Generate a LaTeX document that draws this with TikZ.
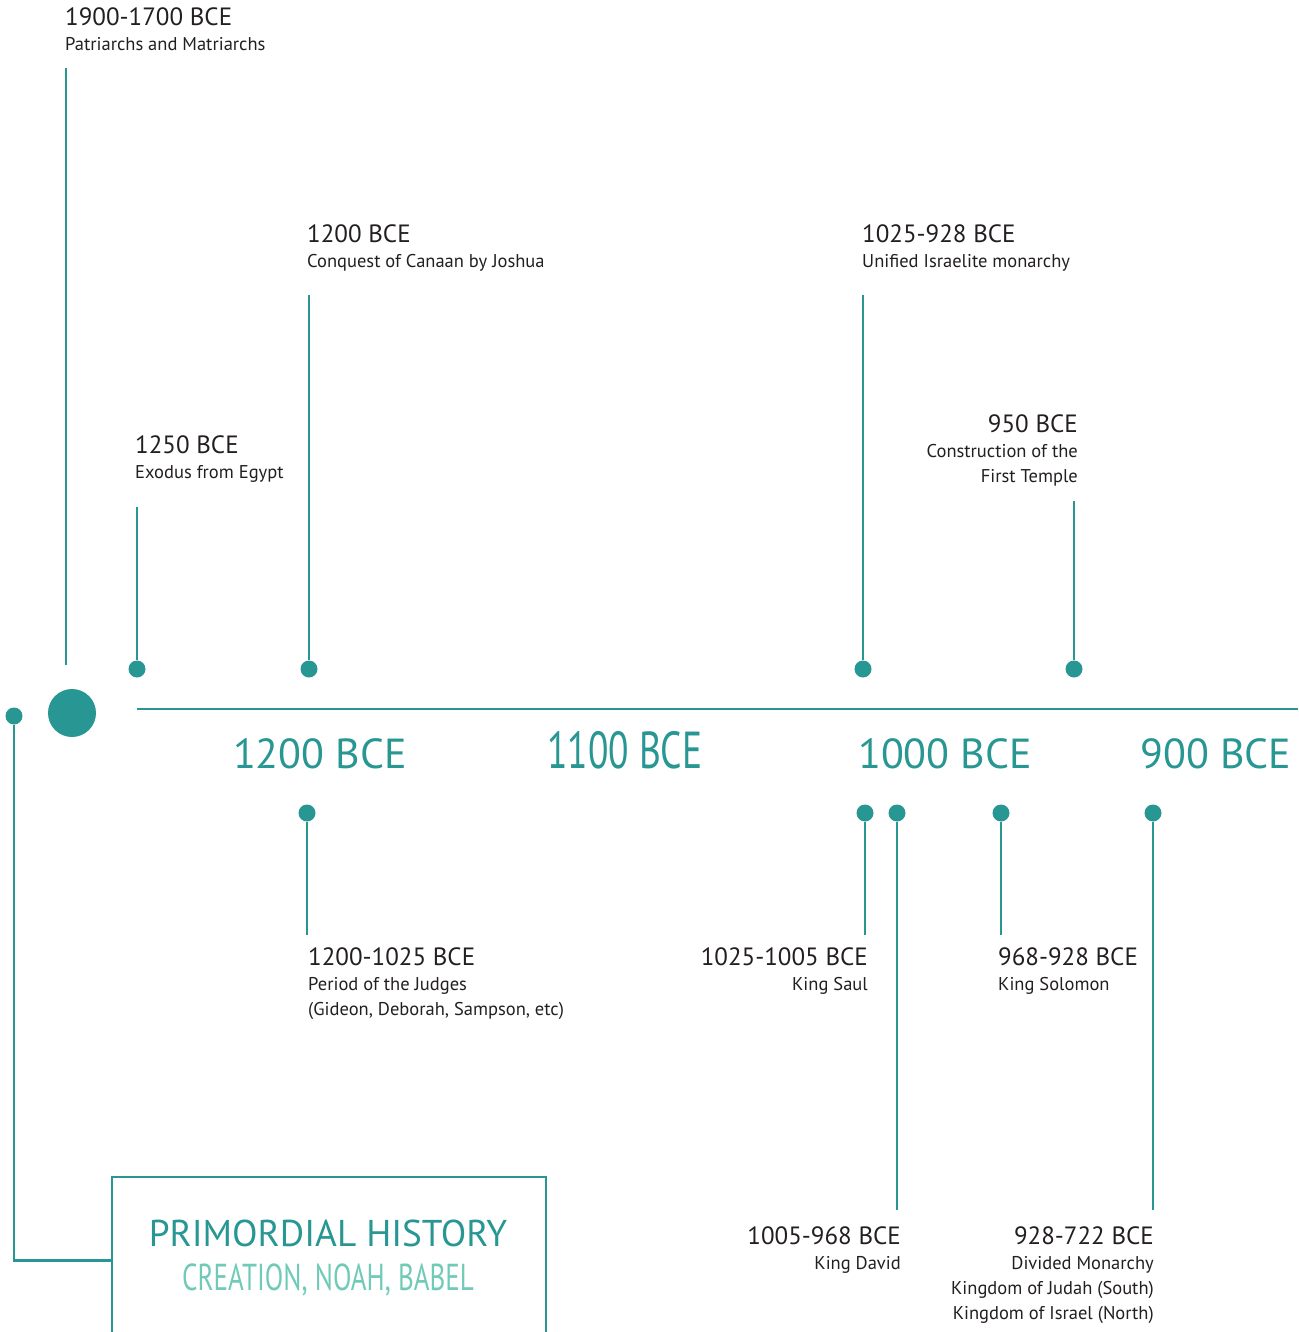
\documentclass[tikz,border=0pt]{standalone}
\usepackage{fontspec}
\setmainfont{PT Sans}
\newfontfamily\condensedFont[FakeStretch=0.72]{PT Sans}
\definecolor{timelineTeal}{RGB}{40,150,146}
\definecolor{lightTeal}{RGB}{112,202,184}
\definecolor{labelGray}{RGB}{35,31,32}
\tikzset{
  eventStem/.style={draw=timelineTeal, line width=2.6pt},
  eventDot/.style={circle, fill=timelineTeal, inner sep=0pt, minimum size=\dotSize},
  eventLabel/.style={inner sep=0pt, text=labelGray, font=\fontsize{18.5}{25}\selectfont},
  eventLabelLeft/.style={eventLabel, anchor=base west, align=left},
  eventLabelRight/.style={eventLabel, anchor=base east, align=right},
  axisLabel/.style={inner sep=0pt, anchor=base, text=timelineTeal, font=\fontsize{42}{42}\selectfont}
}
\newlength\dotSize
\setlength\dotSize{17pt}
\newcommand\eventDate[1]{{\fontsize{25}{25}\selectfont #1}}

\begin{document}
\begin{tikzpicture}[x=1pt, y=-1pt]
    \useasboundingbox (0,0) rectangle (1298,1332);

    % axis
    \coordinate (axisStart) at (137,709);
    \coordinate (axisEnd) at (1298,709);
    \draw[eventStem] (axisStart) -- (axisEnd);

    % patriarchs
    \coordinate (patriarchsTop) at (66,68);
    \coordinate (patriarchsEnd) at (66,665);
    \draw[eventStem] (patriarchsTop) -- (patriarchsEnd);
    \node[circle, fill=timelineTeal, inner sep=0pt, minimum size=48pt] (patriarchsDot) at (72,713) {};
    % labels sit on the baseline of their last line
    \node[eventLabelLeft] (patriarchsLabel) at (65,51)
      {\eventDate{1900-1700 BCE}\\Patriarchs and Matriarchs};

    % events above the axis
    \foreach \name/\x/\top in {exodus/137/507, conquest/309/295, monarchy/863/295, temple/1074/501} {
      \coordinate (\name Top) at (\x,\top);
      \node[eventDot] (\name Dot) at (\x,669) {};
      \draw[eventStem] (\name Top) -- (\name Dot);
    }
    \node[eventLabelLeft] (exodusLabel) at (135,478)
      {\eventDate{1250 BCE}\\Exodus from Egypt};
    \node[eventLabelLeft] (conquestLabel) at (307,268)
      {\eventDate{1200 BCE}\\Conquest of Canaan by Joshua};
    \node[eventLabelLeft] (monarchyLabel) at (862,268)
      {\eventDate{1025-928 BCE}\\Unified Israelite monarchy};
    \node[eventLabelRight] (templeLabel) at (1078,482)
      {\eventDate{950 BCE}\\Construction of the\\First Temple};

    % axis labels
    \node[axisLabel] (year1200) at (320,768) {1200 BCE};
    \node[axisLabel, font=\condensedFont\fontsize{52}{52}\selectfont] (year1100) at (625,768) {1100 BCE};
    \node[axisLabel] (year1000) at (945,768) {1000 BCE};
    \node[axisLabel] (year900) at (1216,768) {900 BCE};

    % events below the axis
    \foreach \name/\x/\bottom in {judges/307/935, saul/865/935, david/897/1210, solomon/1001/935, divided/1153/1210} {
      \coordinate (\name Bottom) at (\x,\bottom);
      \node[eventDot] (\name Dot) at (\x,813) {};
      \draw[eventStem] (\name Dot) -- (\name Bottom);
    }
    \node[eventLabelLeft] (judgesLabel) at (308,1015)
      {\eventDate{1200-1025 BCE}\\Period of the Judges\\(Gideon, Deborah, Sampson, etc)};
    \node[eventLabelRight] (saulLabel) at (868,990)
      {\eventDate{1025-1005 BCE}\\King Saul};
    \node[eventLabelRight] (davidLabel) at (901,1269)
      {\eventDate{1005-968 BCE}\\King David};
    \node[eventLabelLeft] (solomonLabel) at (998,990)
      {\eventDate{968-928 BCE}\\King Solomon};
    \node[eventLabelRight] (dividedLabel) at (1154,1319)
      {\eventDate{928-722 BCE}\\Divided Monarchy\\Kingdom of Judah (South)\\Kingdom of Israel (North)};

    % primordial history
    \node[eventDot] (primordialDot) at (14,716) {};
    \node[draw=timelineTeal, line width=2.4pt, anchor=north west, inner sep=0pt,
      minimum width=434pt, minimum height=166pt] (primordialBox) at (111,1176) {};
    \draw[eventStem] (primordialDot) |- (primordialBox.west);
    \node[inner sep=0pt, anchor=base, text=timelineTeal, font=\fontsize{37.3}{37.3}\selectfont]
      (primordialTitle) at (328,1246) {PRIMORDIAL HISTORY};
    \node[inner sep=0pt, anchor=base, text=lightTeal, font=\condensedFont\fontsize{37.5}{37.5}\selectfont]
      (primordialSub) at (328,1290) {CREATION, NOAH, BABEL};
\end{tikzpicture}
\end{document}
